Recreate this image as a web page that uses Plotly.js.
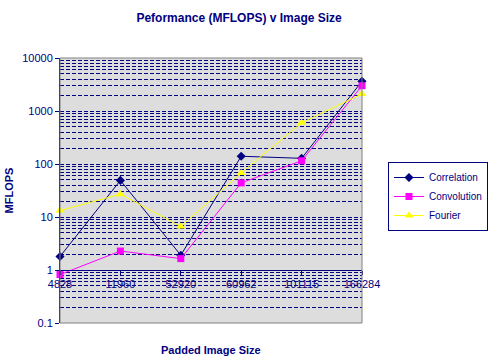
<!DOCTYPE html>
<html><head><meta charset="utf-8">
<script src="https://cdn.plot.ly/plotly-3.0.1.min.js"></script>
<style>html,body{margin:0;padding:0;background:#fff}#c{width:491px;height:363px}</style>
</head><body><div id="c"></div>
<script>
const categories = ['4828','11960','52920','60962','101115','166284'];
const correlation = [1.8, 49, 1.9, 140, 128, 3640];
const convolution = [0.82, 2.28, 1.64, 44, 115, 3000];
const fourier = [13.2, 27, 6.6, 68, 600, 2100];
const yTickVals = [0.1, 1, 10, 100, 1000, 10000];
const yTickText = ['0.1', '1', '10', '100', '1000', '10000'];

const navy = '#000080';
const font = 'Arial, "Liberation Sans", sans-serif';

const traces = [
  {name:'Correlation', x:categories, y:correlation, type:'scatter', mode:'lines+markers', cliponaxis:false,
   line:{color:navy, width:1}, marker:{symbol:'diamond', size:7, color:navy}},
  {name:'Convolution', x:categories, y:convolution, type:'scatter', mode:'lines+markers', cliponaxis:false,
   line:{color:'#ff00ff', width:1}, marker:{symbol:'square', size:7, color:'#ff00ff'}},
  {name:'Fourier', x:categories, y:fourier, type:'scatter', mode:'lines+markers', cliponaxis:false,
   line:{color:'#ffff00', width:1}, marker:{symbol:'triangle-up', size:8, color:'#ffff00'}}
];

const layout = {
  width:491, height:363,
  margin:{l:60, r:129, t:58, b:40, pad:0, autoexpand:false},
  paper_bgcolor:'#ffffff', plot_bgcolor:'#dddddd',
  font:{family:font, size:11, color:navy},
  showlegend:true,
  title:{text:'<b>Peformance (MFLOPS) v Image Size</b>', x:0.487, xanchor:'center', y:0.95, yanchor:'middle',
         font:{family:font, size:12, color:navy}},
  xaxis:{type:'category', range:[0,5], anchor:'free', position:0.2, showline:true, linecolor:navy, linewidth:1,
         showgrid:false, zeroline:false, ticks:'outside', ticklen:4, tickcolor:navy,
         tickfont:{family:font, size:11, color:navy}},
  yaxis:{type:'log', range:[-1,4], tickmode:'array', tickvals:yTickVals, ticktext:yTickText,
         showline:true, linecolor:navy, linewidth:1, ticks:'outside', ticklen:4, tickcolor:navy,
         showgrid:true, gridcolor:navy, griddash:'4px,2px', gridwidth:1,
         minor:{dtick:'D1', showgrid:true, gridcolor:navy, griddash:'4px,2px', gridwidth:1, ticks:''},
         tickfont:{family:font, size:11, color:navy},
         title:{text:'<b>MFLOPS</b>', standoff:6, font:{family:font, size:11, color:navy}}},
  legend:{x:1.086, xanchor:'left', y:0.6075, yanchor:'top', bgcolor:'#ffffff', bordercolor:navy, borderwidth:1,
          font:{family:font, size:10, color:navy}, tracegroupgap:0, itemwidth:30},
  shapes:[{type:'rect', xref:'paper', yref:'paper', x0:0, x1:1, y0:0, y1:1, line:{color:'#808080', width:1}, layer:'above'}],
  annotations:[{text:'<b>Padded Image Size</b>', xref:'paper', yref:'paper', x:0.5, y:-0.07, xanchor:'center', yanchor:'top',
                showarrow:false, font:{family:font, size:11, color:navy}}]
};
Plotly.newPlot('c', traces, layout, {displayModeBar:false, staticPlot:true});
</script></body></html>
